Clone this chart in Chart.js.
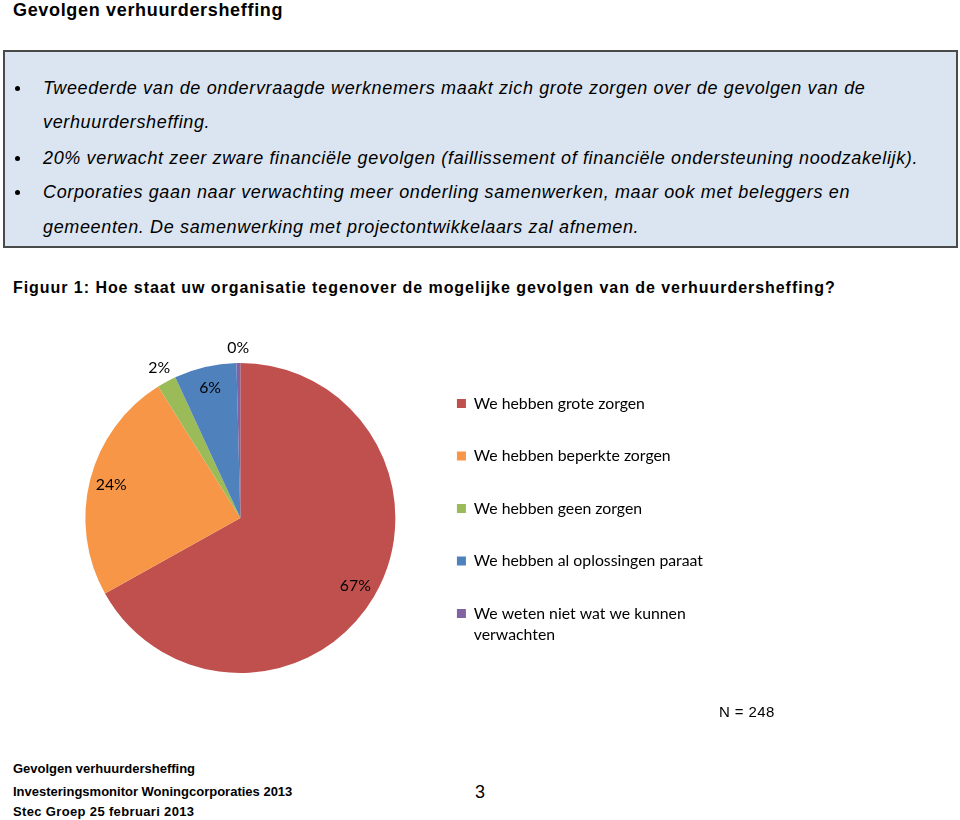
<!DOCTYPE html>
<html>
<head>
<meta charset="utf-8">
<script src="https://cdn.jsdelivr.net/npm/chart.js@4.4.1/dist/chart.umd.min.js"></script>
<style>
    body { margin: 0; width: 960px; height: 820px; background: #fff; position: relative; overflow: hidden;
        font-family: "Liberation Sans", Arial, sans-serif; color: #000; }
    .abs { position: absolute; white-space: nowrap; }
    #title { left: 13px; top: 0px; font-size: 18px; font-weight: bold; line-height: 20px; letter-spacing: 0.67px; }
    #box { left: 3px; top: 50px; width: 951px; height: 194px; background: #dbe5f1; border: 2px solid #4a4a4a; }
    .bullet { position: absolute; left: 38px; font-style: italic; font-size: 18px; line-height: 35px; letter-spacing: 0.64px; white-space: nowrap; }
    .bullet::before { content: ""; position: absolute; left: -28px; top: 15px; width: 5px; height: 5px;
        border-radius: 50%; background: #000; }
    .nob::before { display: none; }
    #caption { left: 13px; top: 278px; font-size: 16px; font-weight: bold; line-height: 20px; letter-spacing: 0.95px; }
    #chartWrap { position: absolute; left: 0px; top: 328px; width: 747px; height: 380px; }
    #n { left: 719px; top: 703px; font-size: 15px; line-height: 18px; letter-spacing: 0.4px; }
    .foot { position: absolute; left: 13px; font-size: 13px; font-weight: bold; line-height: 16px; white-space: nowrap; }
    #page { left: 475px; top: 781px; font-size: 18px; line-height: 22px; }
</style>
</head>
<body>
<div class="abs" id="title">Gevolgen verhuurdersheffing</div>
<div class="abs" id="box">
    <div class="bullet" style="top: 19px;">Tweederde van de ondervraagde werknemers maakt zich grote zorgen over de gevolgen van de</div>
    <div class="bullet nob" style="top: 53px;">verhuurdersheffing.</div>
    <div class="bullet" style="top: 89px;">20% verwacht zeer zware financiële gevolgen (faillissement of financiële ondersteuning noodzakelijk).</div>
    <div class="bullet" style="top: 123px;">Corporaties gaan naar verwachting meer onderling samenwerken, maar ook met beleggers en</div>
    <div class="bullet nob" style="top: 158px;">gemeenten. De samenwerking met projectontwikkelaars zal afnemen.</div>
</div>
<div class="abs" id="caption">Figuur 1: Hoe staat uw organisatie tegenover de mogelijke gevolgen van de verhuurdersheffing?</div>
<div id="chartWrap"><canvas id="myChart"></canvas></div>
<div class="abs" id="n">N = 248</div>
<div class="foot" style="top: 761px;">Gevolgen verhuurdersheffing</div>
<div class="foot" style="top: 784px;">Investeringsmonitor Woningcorporaties 2013</div>
<div class="foot" style="top: 804px; letter-spacing: 0.35px;">Stec Groep 25 februari 2013</div>
<div class="abs" id="page">3</div>

<script>
// antwoorden (aandeel in %, N = 248)
const categorieen = [
    'We hebben grote zorgen',
    'We hebben beperkte zorgen',
    'We hebben geen zorgen',
    'We hebben al oplossingen paraat',
    ['We weten niet wat we kunnen', 'verwachten']
];
const aandelen = [66.9, 24.2, 2.0, 6.5, 0.4];
const kleuren = ['#c0504d', '#f79646', '#9bbb59', '#4f81bd', '#8064a2'];

// percentages op de taartpunten tekenen
const pctLabels = {
    id: 'pctLabels',
    afterDatasetsDraw(chart) {
        const c = chart.ctx;
        const meta = chart.getDatasetMeta(0);
        const data = chart.data.datasets[0].data;
        const total = data.reduce((a, b) => a + b, 0);
        c.save();
        c.font = '15.8px Lato, "Open Sans", sans-serif';
        c.fillStyle = '#000';
        c.textAlign = 'center';
        c.textBaseline = 'middle';
        meta.data.forEach((arc, i) => {
            const p = arc.getProps(['x', 'y', 'startAngle', 'endAngle', 'outerRadius'], true);
            const share = data[i] / total;
            const mid = (p.startAngle + p.endAngle) / 2;
            // kleine punten krijgen het label buiten de taart
            const r = p.outerRadius * (share < 0.03 ? 1.1 : 0.86);
            c.fillText(Math.round(share * 100) + '%', p.x + Math.cos(mid) * r, p.y + Math.sin(mid) * r);
        });
        c.restore();
    }
};

const ctx = document.getElementById('myChart');

let myChart = new Chart(ctx, {
    type: 'pie',
    data: {
        labels: categorieen,
        datasets: [{
            data: aandelen,
            backgroundColor: kleuren,
            borderWidth: 0,
            radius: 155
        }]
    },
    options: {
        responsive: true,
        maintainAspectRatio: false,
        animation: false,
        layout: {
            padding: { left: 60.5, right: 34, top: 0, bottom: 0 }
        },
        plugins: {
            tooltip: { enabled: false },
            legend: {
                position: 'right',
                title: { display: true, text: ' ', font: { size: 1 }, padding: 3 },
                labels: {
                    boxWidth: 9,
                    boxHeight: 9,
                    padding: 36.7,
                    color: '#000',
                    font: { family: 'Lato, "Open Sans", sans-serif', size: 15.8, lineHeight: 1.33 }
                }
            }
        }
    },
    plugins: [pctLabels]
});
</script>
</body>
</html>
